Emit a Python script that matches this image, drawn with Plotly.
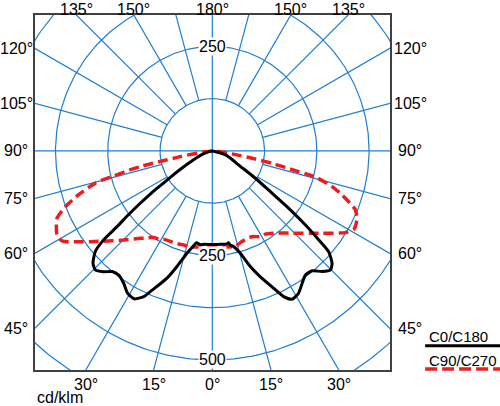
import numpy as np
import plotly.graph_objects as go

# angle from nadir (deg) and luminous intensity (cd/klm)
# left half of the C0/C180 curve (from 90 deg down to nadir)
c180_angle = [90, 72.6, 66.4, 62.5, 60, 58.2, 56.7, 55.8, 54.9, 54, 52.7, 51.5, 50.7,
              49.3, 46.7, 44.5, 42, 39.7, 37.1, 33.8, 30.8, 27.8, 25.2, 23.8, 22.2,
              19.6, 17, 13.9, 11.4, 9.8, 7.3, 4.9, 0]
c180_cd = [0, 20, 42, 65, 88, 113, 137, 162, 187, 213, 253, 291, 336,
           369, 392, 399, 389, 375, 372, 381, 396, 400, 385, 368, 350,
           323, 289, 252, 233, 223, 226, 224, 224]
# right half (nadir up to 90 deg)
c0_angle = [0, 5, 9, 10, 10.8, 12.5, 15.3, 18.2, 20.7, 23.7, 26.1, 28.3, 31.2, 34.1,
            36.9, 39.8, 42.3, 44.8, 46.8, 49.1, 50.1, 51.5, 53.1, 54.7, 57.6, 62,
            67, 72.9, 90]
c0_cd = [224, 224, 225, 223, 229, 234, 254, 291, 320, 355, 388, 403, 398, 383,
         371, 373, 390, 401, 393, 368, 332, 284, 228, 175, 122, 71,
         50, 33, 0]

# C90/C270 curve, left half then right half
c270_angle = [90, 81.4, 79.9, 78.6, 77.8, 77.2, 75.6, 74.6, 71.8, 69.2, 66.5, 63.1,
              61.6, 59.1, 55.8, 53.4, 48.1, 44.9, 39.5, 37.5, 34.1, 31.3, 28.9,
              21.8, 17, 13.9, 9, 0]
c270_cd = [0, 37, 78, 120, 170, 195, 248, 290, 337, 376, 405, 418,
           422, 419, 387, 364, 322, 301, 271, 263, 250, 247, 241,
           238, 235, 236, 233, 229]
c90_angle = [0, 8, 13.5, 18.1, 24.8, 29.3, 32.5, 38.2, 42.8, 53.1, 58.4, 61, 64.5,
             67.6, 70.4, 71.7, 73.4, 75.7, 77, 78.2, 79.3, 80.5, 83.4, 90]
c90_cd = [229, 232, 235, 228, 226, 235, 236, 250, 268, 328, 373, 387, 383,
          370, 338, 322, 299, 256, 185, 150, 105, 68, 27, 0]

circle_values = [125, 250, 375, 500, 625, 750]
side_ticks = [45, 60, 75, 90, 105, 120]
bottom_ticks = [-30, -15, 0, 15, 30]      # sign = side of the diagram
top_ticks = [-135, -150, 180, 150, 135]
scale_labels = [250, -250, -500]          # negative = below the centre

X_RANGE = [-424, 425]
Y_RANGE = [-524, 325]
GRID = "#1f7ed0"
FONT = "Liberation Sans, Arial, sans-serif"


def to_xy(angles, values, side):
    a = np.radians(angles)
    v = np.asarray(values, float)
    return side * v * np.sin(a), -v * np.cos(a)


fig = go.Figure()

# polar grid: circles
gx, gy = [], []
t = np.linspace(0, 2 * np.pi, 361)
for c in circle_values:
    gx += list(c * np.cos(t)) + [None]
    gy += list(c * np.sin(t)) + [None]
# polar grid: rays every 15 deg, only the main axes reach the centre
for ang in range(0, 360, 15):
    r0 = 0 if ang % 90 == 0 else circle_values[0]
    a = np.radians(ang)
    gx += [r0 * np.cos(a), 1000 * np.cos(a), None]
    gy += [r0 * np.sin(a), 1000 * np.sin(a), None]
fig.add_trace(go.Scatter(x=gx, y=gy, mode="lines", hoverinfo="skip",
                         line=dict(color=GRID, width=1.2)))

# C90/C270 (dashed red)
lx, ly = to_xy(c270_angle, c270_cd, -1)
rx, ry = to_xy(c90_angle, c90_cd, 1)
fig.add_trace(go.Scatter(x=np.concatenate([lx, rx]), y=np.concatenate([ly, ry]),
                         mode="lines", name="C90/C270",
                         line=dict(color="#ee1c1c", width=3.5, dash="10px,5px",
                                   shape="spline", smoothing=0.6)))

# C0/C180 (solid black)
lx, ly = to_xy(c180_angle, c180_cd, -1)
rx, ry = to_xy(c0_angle, c0_cd, 1)
fig.add_trace(go.Scatter(x=np.concatenate([lx, rx]), y=np.concatenate([ly, ry]),
                         mode="lines", name="C0/C180",
                         line=dict(color="black", width=3,
                                   shape="spline", smoothing=0.6)))

ann = []
tf = dict(family=FONT, size=16, color="black")
lf = dict(family=FONT, size=15, color="black")
# side labels where the rays hit the frame
for g in side_ticks:
    a = np.radians(g)
    for side, xe, shift in [(-1, X_RANGE[0], -19), (1, X_RANGE[1], 20)]:
        yv = -abs(xe) * np.cos(a) / np.sin(a)
        ann.append(dict(x=xe, y=yv, text=f"{g}°", showarrow=False, font=tf,
                        xanchor="center", yanchor="middle", xshift=shift))
for g in bottom_ticks:
    xv = abs(Y_RANGE[0]) * np.tan(np.radians(abs(g))) * np.sign(g)
    ann.append(dict(x=xv, y=Y_RANGE[0], text=f"{abs(g)}°", showarrow=False, font=tf,
                    xanchor="center", yanchor="middle", yshift=-14))
for g in top_ticks:
    xv = Y_RANGE[1] * np.tan(np.radians(180 - abs(g))) * np.sign(g)
    ann.append(dict(x=xv, y=Y_RANGE[1], text=f"{abs(g)}°", showarrow=False, font=tf,
                    xanchor="center", yanchor="middle", yshift=6))
for v in scale_labels:
    ann.append(dict(x=0, y=v, text=str(abs(v)), showarrow=False, font=tf,
                    bgcolor="white", borderpad=0, xanchor="center", yanchor="middle"))

ann.append(dict(x=0, y=-0.077, xref="paper", yref="paper", text="cd/klm",
                showarrow=False, font=tf, xanchor="left", yanchor="middle"))
# legend drawn as text with a line sample underneath
ann.append(dict(x=1.104, y=0.093, xref="paper", yref="paper", text="C0/C180",
                showarrow=False, font=lf, xanchor="left", yanchor="middle"))
ann.append(dict(x=1.104, y=0.027, xref="paper", yref="paper", text="C90/C270",
                showarrow=False, font=lf, xanchor="left", yanchor="middle"))

shapes = [
    dict(type="line", xref="paper", yref="paper", x0=1.099, x1=1.32, y0=0.068, y1=0.068,
         line=dict(color="black", width=3)),
    dict(type="line", xref="paper", yref="paper", x0=1.099, x1=1.32, y0=0.003, y1=0.003,
         line=dict(color="#ee1c1c", width=3.5, dash="12px,5px")),
]

axis = dict(showgrid=False, zeroline=False, showticklabels=False, ticks="",
            showline=True, mirror=True, linecolor="#404040", linewidth=1.5)
fig.update_layout(
    width=500, height=406,
    margin=dict(l=35, r=110, t=15, b=36),
    paper_bgcolor="white", plot_bgcolor="white",
    showlegend=False,
    xaxis=dict(range=X_RANGE, **axis),
    yaxis=dict(range=Y_RANGE, **axis),
    annotations=ann,
    shapes=shapes,
)

# the page has a default body margin; remove it so the figure sits at the top-left
fig.write_html("out.html", config={"displayModeBar": False},
               post_script="document.body.style.margin='0';")
